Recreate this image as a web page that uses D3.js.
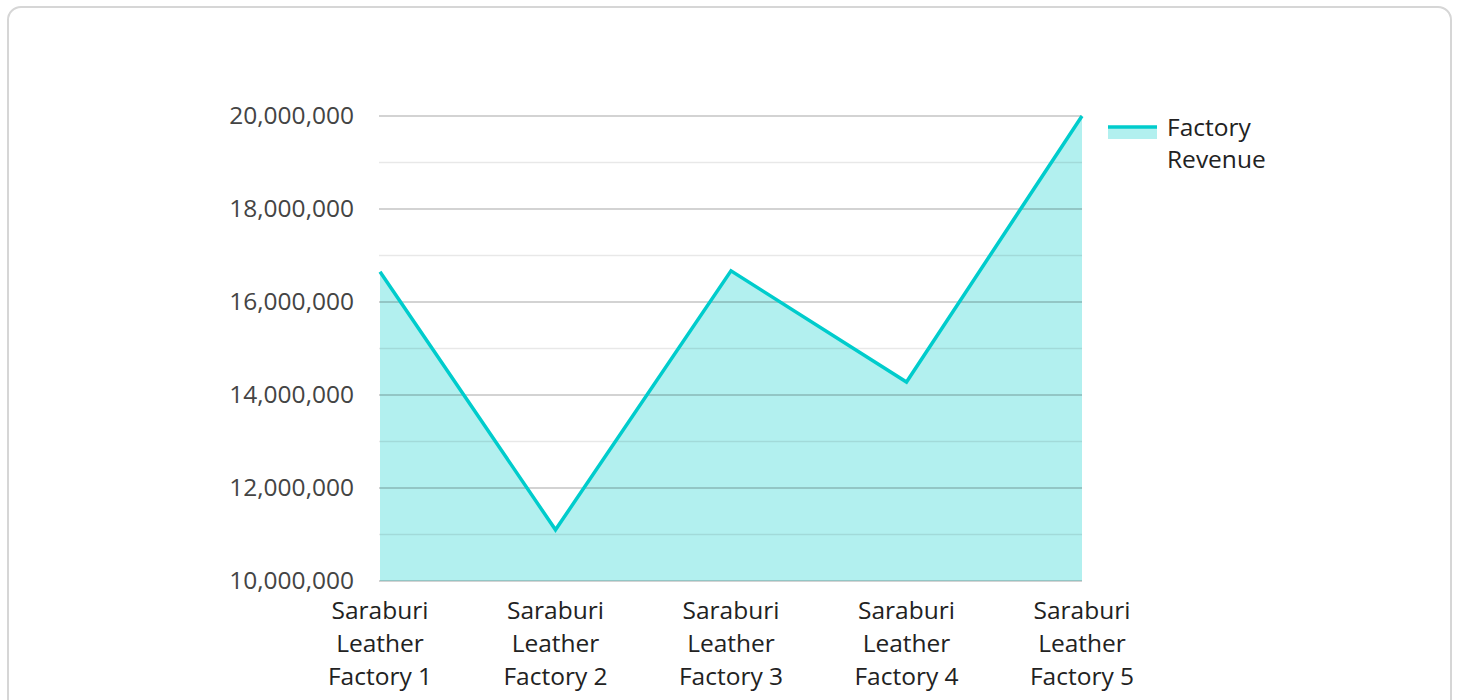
<!DOCTYPE html>
<html>
<head>
<meta charset="utf-8">
<script src="https://cdn.jsdelivr.net/npm/d3@7"></script>
<style>
  body { margin: 0; background: #fff; font-family: "Open Sans", sans-serif; }
  .card {
    position: absolute; left: 7px; top: 6px; width: 1445px; height: 720px;
    border: 2px solid #d6d6d6; border-radius: 14px; box-sizing: border-box;
  }
  svg { position: absolute; left: 0; top: 0; }
</style>
</head>
<body>
<div class="card"></div>
<svg id="chart" width="1458" height="700"></svg>
<script>
// Chart data
const factories = [
  "Saraburi Leather Factory 1",
  "Saraburi Leather Factory 2",
  "Saraburi Leather Factory 3",
  "Saraburi Leather Factory 4",
  "Saraburi Leather Factory 5"
];
const revenue = [16650000, 11100000, 16670000, 14280000, 20000000];
const seriesName = "Factory Revenue";
const yTicks = [10000000, 12000000, 14000000, 16000000, 18000000, 20000000];
const yMinorTicks = [11000000, 13000000, 15000000, 17000000, 19000000];

const margin = {top: 116, left: 380};
const width = 702, height = 465;
const fontSize = 24.5;

const svg = d3.select('#chart');
const g = svg.append('g')
  .attr('transform', 'translate(' + margin.left + ',' + margin.top + ')');

const x = d3.scalePoint().domain(factories).range([0, width]).padding(0);
const y = d3.scaleLinear().domain([10000000, 20000000]).range([height, 0]);

const data = factories.map(function(f, i) { return {name: f, value: revenue[i]}; });

// Area fill
const area = d3.area()
  .x(function(d) { return x(d.name); })
  .y0(height)
  .y1(function(d) { return y(d.value); });

g.append('path')
  .datum(data)
  .attr('d', area)
  .attr('fill', '#b2f0ef');

// Gridlines over the fill
g.selectAll('.minor')
  .data(yMinorTicks)
  .enter().append('line')
  .attr('x1', -1).attr('x2', width)
  .attr('y1', function(d) { return y(d); })
  .attr('y2', function(d) { return y(d); })
  .attr('stroke', 'rgba(0,0,0,0.09)')
  .attr('stroke-width', 1.5);

g.selectAll('.major')
  .data(yTicks)
  .enter().append('line')
  .attr('x1', -1).attr('x2', width)
  .attr('y1', function(d) { return y(d); })
  .attr('y2', function(d) { return y(d); })
  .attr('stroke', 'rgba(0,0,0,0.23)')
  .attr('stroke-width', 1.5);

// Line
const line = d3.line()
  .x(function(d) { return x(d.name); })
  .y(function(d) { return y(d.value); });

g.append('path')
  .datum(data)
  .attr('d', line)
  .attr('fill', 'none')
  .attr('stroke', '#00cccc')
  .attr('stroke-width', 3.5);

// Y axis
const yAxis = d3.axisLeft(y)
  .tickValues(yTicks)
  .tickSize(0)
  .tickPadding(26)
  .tickFormat(d3.format(','));

const gy = g.append('g').call(yAxis);
gy.select('.domain').remove();
gy.selectAll('text')
  .attr('font-family', '"Open Sans", sans-serif')
  .attr('font-size', fontSize)
  .attr('fill', '#444');

// X axis labels (wrapped)
const xl = g.selectAll('.xlabel')
  .data(factories)
  .enter().append('text')
  .attr('text-anchor', 'middle')
  .attr('font-family', '"Open Sans", sans-serif')
  .attr('font-size', fontSize)
  .attr('fill', '#222')
  .attr('transform', function(d) { return 'translate(' + x(d) + ',' + (height + 38) + ')'; });

xl.each(function(d) {
  const words = d.split(' ');
  const lines = [words[0], words[1], words.slice(2).join(' ')];
  const t = d3.select(this);
  lines.forEach(function(l, i) {
    t.append('tspan').attr('x', 0).attr('dy', i === 0 ? 0 : 33).text(l);
  });
});

// Legend
const lg = svg.append('g').attr('transform', 'translate(1108,0)');
lg.append('rect')
  .attr('x', 0).attr('y', 127).attr('width', 49).attr('height', 12)
  .attr('fill', '#b2f0ef');
lg.append('line')
  .attr('x1', 0).attr('x2', 49).attr('y1', 127).attr('y2', 127)
  .attr('stroke', '#00cccc').attr('stroke-width', 3.5);
const lt = lg.append('text')
  .attr('x', 59).attr('y', 136)
  .attr('font-family', '"Open Sans", sans-serif')
  .attr('font-size', fontSize)
  .attr('fill', '#222');
seriesName.split(' ').forEach(function(w, i) {
  lt.append('tspan').attr('x', 59).attr('dy', i === 0 ? 0 : 32).text(w);
});
</script>
</body>
</html>
